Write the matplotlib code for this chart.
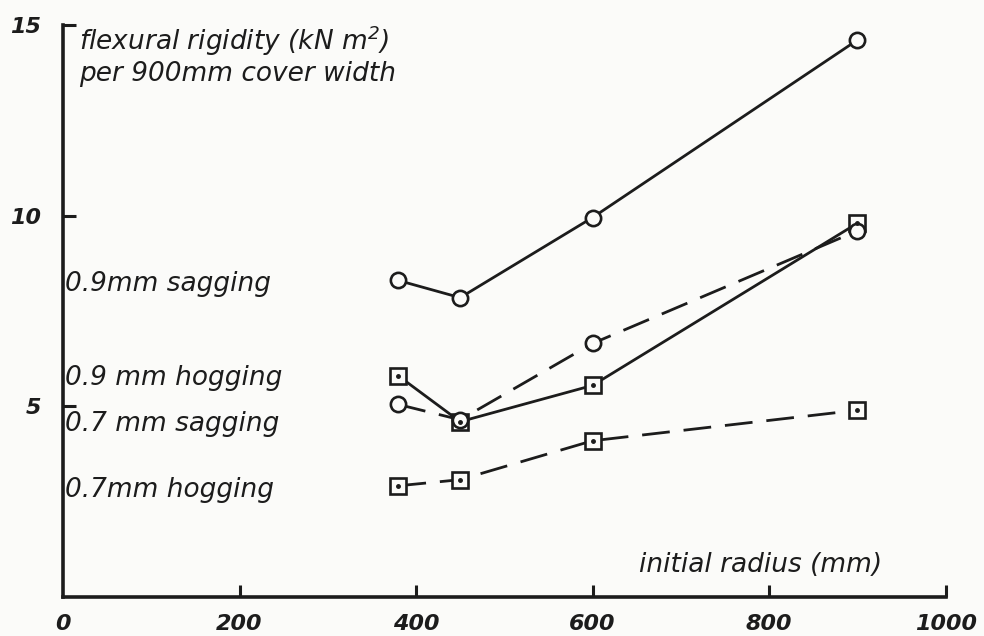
import matplotlib
matplotlib.use('Agg')
import matplotlib.pyplot as plt

# initial radius (mm)
radius = [380, 450, 600, 900]

# flexural rigidity (kN m^2) per 900mm cover width
sag_09 = [8.3, 7.85, 9.95, 14.6]
hog_09 = [5.8, 4.6, 5.55, 9.8]
sag_07 = [5.05, 4.65, 6.65, 9.6]
hog_07 = [2.92, 3.08, 4.1, 4.9]

series_labels = ['0.9mm sagging', '0.9 mm hogging', '0.7 mm sagging', '0.7mm hogging']
label_y = [8.2, 5.75, 4.55, 2.8]

x_ticks = [0, 200, 400, 600, 800, 1000]
y_ticks = [5, 10, 15]

ink = '#1c1c1c'
plt.rcParams['font.family'] = ['DejaVu Sans']
plt.rcParams['font.style'] = 'italic'
plt.rcParams['mathtext.fontset'] = 'dejavusans'
plt.rcParams['mathtext.default'] = 'it'

fig = plt.figure(figsize=(9.84, 6.36), dpi=100, facecolor='#fbfbf9')
ax = fig.add_axes([0.064, 0.061, 0.897, 0.9])
ax.set_facecolor('#fbfbf9')
ax.set_xlim(0, 1000)
ax.set_ylim(0, 15)

lw = 2.0
ms = 11

def draw(y, marker, dashed):
    style = dict(color=ink, lw=lw, marker=marker, ms=ms, mfc='#fbfbf9',
                 mec=ink, mew=1.9, zorder=3)
    line, = ax.plot(radius, y, **style)
    if dashed:
        line.set_dashes([10, 5])
    if marker == 's':
        ax.plot(radius, y, ls='none', marker='o', ms=2.5, color=ink, zorder=4)

draw(sag_09, 'o', False)
draw(hog_09, 's', False)
draw(sag_07, 'o', True)
draw(hog_07, 's', True)

for s in ['top', 'right']:
    ax.spines[s].set_visible(False)
for s in ['left', 'bottom']:
    ax.spines[s].set_linewidth(2.6)
    ax.spines[s].set_color(ink)

ax.set_xticks(x_ticks)
ax.set_yticks(y_ticks)
ax.set_xticklabels([str(t) for t in x_ticks], fontweight='bold')
ax.set_yticklabels([str(t) for t in y_ticks], fontweight='bold')
ax.tick_params(axis='both', direction='in', length=9, width=2.2, color=ink,
               labelsize=16, labelcolor=ink)
ax.tick_params(axis='x', pad=12)
ax.tick_params(axis='y', pad=16)
ax.xaxis.get_major_ticks()[0].tick1line.set_visible(False)

for txt, yy in zip(series_labels, label_y):
    ax.text(2, yy, txt, fontsize=19, color=ink, va='center', ha='left')

ax.text(18, 14.2, 'flexural rigidity (kN m$^2$)\nper 900mm cover width',
        fontsize=19, color=ink, va='center', ha='left', linespacing=1.15)
ax.text(790, 0.85, 'initial radius (mm)', fontsize=19, color=ink,
        va='center', ha='center')

fig.savefig('out.png', dpi=100, facecolor=fig.get_facecolor())
